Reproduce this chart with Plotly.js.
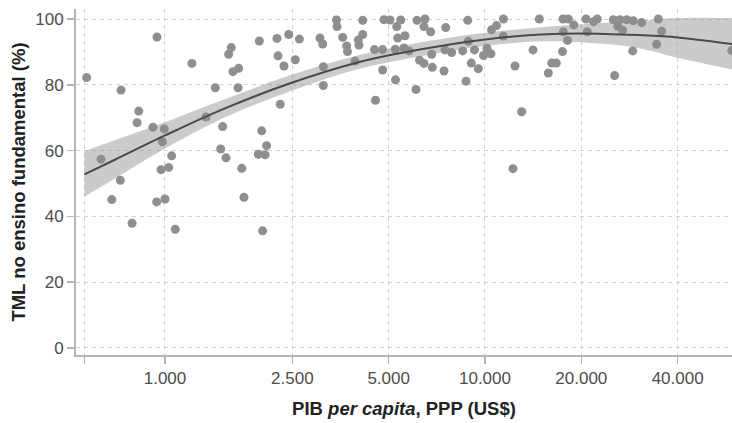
<!DOCTYPE html>
<html>
<head>
<meta charset="utf-8">
<script src="https://cdn.plot.ly/plotly-3.0.1.min.js"></script>
<style>html,body{margin:0;padding:0;background:#fff;}#chart{width:732px;height:423px;}</style>
</head>
<body>
<div id="chart"></div>
<script>
// Scatter: GDP per capita (PPP, US$) vs TML (%)
const gdp = [
  569, 944, 1214, 729, 828, 818, 917, 995, 981, 631, 1049, 1027, 972, 725, 682, 942, 1000, 789, 1077,
  1971, 2239, 2436, 2630, 1611, 1581, 2255, 2554, 2354, 1699, 1631, 1436, 1691, 1343, 2292, 1514, 2005, 1493, 1551, 1957, 2078, 2056, 1737, 1765, 2019,
  3124, 3124, 3050, 3111, 3435, 3448, 3592, 3697, 3718, 3925, 4018, 4148, 4148, 4039, 4515, 4789, 4789, 4548, 4834, 5048, 5298, 5453, 5245, 5336, 5252,
  5623, 5583, 5788, 6131, 6494, 6447, 6765, 6087, 6243, 6447, 6814, 6844, 7446, 7538, 7499, 7869, 8518, 8831, 8869, 8723, 9062, 9530, 9273, 9893, 10145,
  10479, 10863, 11424, 11407, 10441, 12411, 14125, 14783, 17532, 18210, 18945, 17566, 18105, 17468, 16159, 16704, 15770, 13020, 12232,
  20692, 22436, 21834, 20875, 25171, 26378, 27724, 29069, 30883, 26000, 26902, 28949, 25410, 34801, 35663, 34401, 59005
];
const tml = [
  82.2, 94.5, 86.5, 78.4, 72.0, 68.5, 67.1, 66.6, 62.7, 57.4, 58.4, 54.9, 54.2, 51.0, 45.1, 44.4, 45.3, 37.9, 36.1,
  93.3, 94.1, 95.3, 93.9, 91.3, 89.3, 88.8, 87.6, 85.7, 85.0, 84.0, 79.1, 79.1, 70.2, 74.1, 67.3, 66.0, 60.5, 57.8, 58.9, 61.5, 58.7, 54.6, 45.8, 35.6,
  79.8, 85.5, 94.2, 92.4, 99.7, 97.7, 94.4, 91.8, 90.1, 87.2, 93.6, 95.3, 99.6, 92.1, 90.7, 90.7, 84.5, 75.3, 99.8, 99.7, 97.7, 99.7, 90.8, 94.2, 81.5,
  94.9, 91.2, 90.3, 99.6, 100, 97.7, 96.1, 78.6, 87.5, 86.5, 89.3, 85.3, 84.2, 97.4, 90.6, 89.8, 90.3, 99.6, 93.2, 81.1, 86.6, 84.9, 90.6, 88.9, 91.1,
  96.7, 98.0, 100, 94.8, 89.4, 85.7, 90.6, 100, 100, 100, 98.2, 96.1, 93.5, 90.1, 86.6, 86.6, 83.6, 71.8, 54.5,
  100, 100, 99.2, 96.1, 99.8, 99.8, 99.8, 99.5, 98.9, 97.8, 96.6, 90.3, 82.8, 100, 96.3, 92.3, 90.4
];

// Fitted curve and confidence band
const fitX  = [560, 700, 1000, 1500, 2500, 4000, 6000, 10000, 15000, 20000, 30000, 40000, 60000];
const fitY  = [52.8, 57.3, 64.6, 72.4, 80.7, 86.8, 90.4, 93.8, 95.3, 95.6, 95.1, 94.4, 92.3];
const fitLo = [46.0, 51.6, 60.6, 69.6, 78.3, 84.7, 88.3, 91.8, 93.2, 92.9, 91.2, 88.2, 84.5];
const fitHi = [59.8, 63.2, 68.6, 75.2, 83.1, 88.9, 92.5, 95.8, 97.5, 98.4, 99.5, 100.3, 100.3];

const xTickVals = [560, 1000, 2500, 5000, 10000, 20000, 40000];
const xTickText = ['', '1.000', '2.500', '5.000', '10.000', '20.000', '40.000'];
const yTickVals = [0, 20, 40, 60, 80, 100];

const traces = [
  {x: gdp, y: tml, type: 'scatter', mode: 'markers', cliponaxis: true,
   marker: {size: 9, color: '#8f8f8f', line: {width: 0}}, hoverinfo: 'skip'},
  {x: fitX, y: fitLo, type: 'scatter', mode: 'lines', line: {width: 0, shape: 'spline', smoothing: 1}, hoverinfo: 'skip'},
  {x: fitX, y: fitHi, type: 'scatter', mode: 'lines', fill: 'tonexty',
   fillcolor: 'rgba(140,140,140,0.45)', line: {width: 0, shape: 'spline', smoothing: 1}, hoverinfo: 'skip'},
  {x: fitX, y: fitY, type: 'scatter', mode: 'lines', line: {color: '#4a4a4a', width: 2, shape: 'spline', smoothing: 1}, hoverinfo: 'skip'}
];

const fam = '"Liberation Sans", Arial, sans-serif';
const layout = {
  width: 732, height: 423,
  margin: {l: 76, r: 0, t: 9, b: 68, pad: 0},
  paper_bgcolor: '#fff', plot_bgcolor: '#fff',
  showlegend: false,
  font: {family: fam, size: 17, color: '#4d4d4d'},
  xaxis: {
    type: 'log', range: [2.7219, 4.7719],
    tickvals: xTickVals, ticktext: xTickText,
    ticks: 'outside', ticklen: 7, tickwidth: 1.5, tickcolor: '#b5b5b5',
    showline: true, linecolor: '#b5b5b5', linewidth: 2,
    showgrid: true, gridcolor: '#d2d2d2', gridwidth: 1, griddash: '4px,4px',
    zeroline: false,
    tickfont: {size: 17, color: '#4d4d4d'},
    title: {text: 'PIB <i>per capita</i>, PPP (US$)', font: {size: 18.5, color: '#222', weight: 'bold'}, standoff: 15}
  },
  yaxis: {
    range: [-2.13, 103.04],
    tickvals: yTickVals,
    ticks: 'outside', ticklen: 7, tickwidth: 1.5, tickcolor: '#b5b5b5',
    showline: true, linecolor: '#b5b5b5', linewidth: 2,
    showgrid: true, gridcolor: '#d2d2d2', gridwidth: 1, griddash: '4px,4px',
    zeroline: false,
    tickfont: {size: 17, color: '#4d4d4d'},
    title: {text: 'TML no ensino fundamental (%)', font: {size: 18.5, color: '#222', weight: 'bold'}, standoff: 5}
  }
};

Plotly.newPlot('chart', traces, layout, {displayModeBar: false, staticPlot: true});
</script>
</body>
</html>
